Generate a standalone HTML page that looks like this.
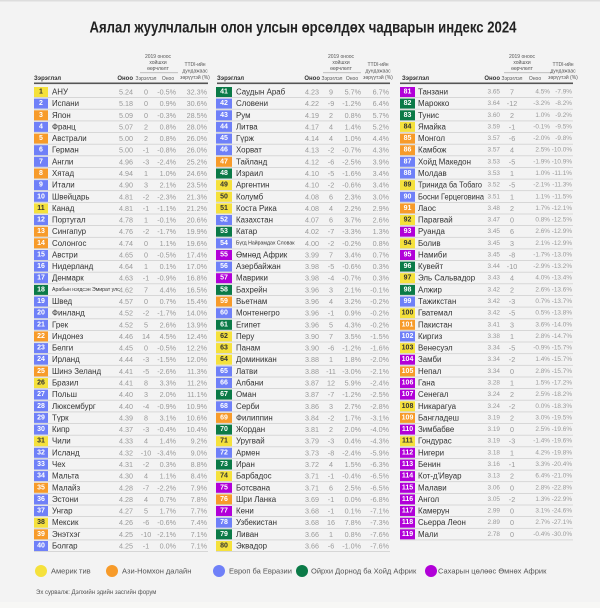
<!DOCTYPE html>
<html><head><meta charset="utf-8"><style>
html,body{margin:0;padding:0;background:#f3f3f3;}
svg{display:block;font-family:"Liberation Sans",sans-serif;}
text{dominant-baseline:central;}
.t{font-size:16px;font-weight:bold;fill:#222;}
.h{font-size:5px;fill:#555;}
.hb{font-size:6px;font-weight:bold;fill:#333;}
.c{font-size:7.9px;fill:#333;}
.s{font-size:5.2px;fill:#333;}
.e{font-size:7.2px;fill:#999;text-anchor:end;}
.m{font-size:7.2px;fill:#999;text-anchor:middle;}
.c3 .e{font-size:6.4px;}
.k{font-size:7px;font-weight:bold;fill:#fff;text-anchor:middle;}
.kd{font-size:7px;font-weight:bold;fill:#333;text-anchor:middle;}
.Y{fill:#f5e13c}.O{fill:#f79b2a}.B{fill:#6f80f8}.G{fill:#0b7a47}.P{fill:#b100d8}
.l{fill:#d0d0d0}
.lg{font-size:7.5px;fill:#555;}
</style></head><body>
<svg width="600" height="608" viewBox="0 0 600 608" xmlns="http://www.w3.org/2000/svg">
<rect x="0" y="0" width="600" height="608" fill="#f3f3f3"/>
<rect x="0" y="0" width="600" height="1.5" fill="#ddd"/>
<text x="303" y="28" class="t" text-anchor="middle" textLength="427" lengthAdjust="spacingAndGlyphs">Аялал жуулчлалын олон улсын өрсөлдөх чадварын индекс 2024</text>

<g>
<text x="34" y="79" class="hb">Зэрэглэл</text><text x="133" y="79" class="hb" text-anchor="end">Оноо</text>
<text x="158" y="57" class="h" text-anchor="middle">2019 оноос</text><text x="158" y="63" class="h" text-anchor="middle">хойшхи</text><text x="158" y="69" class="h" text-anchor="middle">өөрчлөлт</text>
<rect x="140" y="72.5" width="38" height="0.6" fill="#999"/>
<text x="146" y="79" class="h" text-anchor="middle">Зэрэглэл</text><text x="168" y="79" class="h" text-anchor="middle">Оноо</text>
<text x="195" y="65" class="h" text-anchor="middle">TTDI-ийн</text><text x="195" y="71.5" class="h" text-anchor="middle">дундажаас</text><text x="195" y="78" class="h" text-anchor="middle">зөрүүтэй (%)</text>
<rect x="34" y="82.5" width="174" height="1.6" fill="#555"/>

<text x="217" y="79" class="hb">Зэрэглэл</text><text x="320" y="79" class="hb" text-anchor="end">Оноо</text>
<text x="341" y="57" class="h" text-anchor="middle">2019 оноос</text><text x="341" y="63" class="h" text-anchor="middle">хойшхи</text><text x="341" y="69" class="h" text-anchor="middle">өөрчлөлт</text>
<rect x="323" y="72.5" width="38" height="0.6" fill="#999"/>
<text x="332" y="79" class="h" text-anchor="middle">Зэрэглэл</text><text x="352" y="79" class="h" text-anchor="middle">Оноо</text>
<text x="378" y="65" class="h" text-anchor="middle">TTDI-ийн</text><text x="378" y="71.5" class="h" text-anchor="middle">дундажаас</text><text x="378" y="78" class="h" text-anchor="middle">зөрүүтэй (%)</text>
<rect x="217" y="82.5" width="173" height="1.6" fill="#555"/>

<text x="402" y="79" class="hb">Зэрэглэл</text><text x="500" y="79" class="hb" text-anchor="end">Оноо</text>
<text x="522" y="57" class="h" text-anchor="middle">2019 оноос</text><text x="522" y="63" class="h" text-anchor="middle">хойшхи</text><text x="522" y="69" class="h" text-anchor="middle">өөрчлөлт</text>
<rect x="504" y="72.5" width="48" height="0.6" fill="#999"/>
<text x="512" y="79" class="h" text-anchor="middle">Зэрэглэл</text><text x="535" y="79" class="h" text-anchor="middle">Оноо</text>
<text x="563" y="65" class="h" text-anchor="middle">TTDI-ийн</text><text x="563" y="71.5" class="h" text-anchor="middle">дундажаас</text><text x="563" y="78" class="h" text-anchor="middle">зөрүүтэй (%)</text>
<rect x="400" y="82.5" width="173" height="1.6" fill="#555"/>
</g>

<!-- column 1 -->
<g transform="translate(0,92)"><rect x="34" y="-5" width="14" height="10" class="Y"/><text x="41" class="kd">1</text><text x="52" class="c">АНУ</text><text x="133" class="e">5.24</text><text x="146" class="m">0</text><text x="176" class="e">-0.5%</text><text x="207" class="e">32.3%</text><rect x="34" y="5.2" width="174" height="0.8" class="l"/></g>
<g transform="translate(0,103.6)"><rect x="34" y="-5" width="14" height="10" class="B"/><text x="41" class="k">2</text><text x="52" class="c">Испани</text><text x="133" class="e">5.18</text><text x="146" class="m">0</text><text x="176" class="e">0.9%</text><text x="207" class="e">30.6%</text><rect x="34" y="5.2" width="174" height="0.8" class="l"/></g>
<g transform="translate(0,115.3)"><rect x="34" y="-5" width="14" height="10" class="O"/><text x="41" class="k">3</text><text x="52" class="c">Япон</text><text x="133" class="e">5.09</text><text x="146" class="m">0</text><text x="176" class="e">-0.3%</text><text x="207" class="e">28.5%</text><rect x="34" y="5.2" width="174" height="0.8" class="l"/></g>
<g transform="translate(0,126.9)"><rect x="34" y="-5" width="14" height="10" class="B"/><text x="41" class="k">4</text><text x="52" class="c">Франц</text><text x="133" class="e">5.07</text><text x="146" class="m">2</text><text x="176" class="e">0.8%</text><text x="207" class="e">28.0%</text><rect x="34" y="5.2" width="174" height="0.8" class="l"/></g>
<g transform="translate(0,138.6)"><rect x="34" y="-5" width="14" height="10" class="O"/><text x="41" class="k">5</text><text x="52" class="c">Австрали</text><text x="133" class="e">5.00</text><text x="146" class="m">2</text><text x="176" class="e">0.8%</text><text x="207" class="e">26.0%</text><rect x="34" y="5.2" width="174" height="0.8" class="l"/></g>
<g transform="translate(0,150.2)"><rect x="34" y="-5" width="14" height="10" class="B"/><text x="41" class="k">6</text><text x="52" class="c">Герман</text><text x="133" class="e">5.00</text><text x="146" class="m">-1</text><text x="176" class="e">-0.8%</text><text x="207" class="e">26.0%</text><rect x="34" y="5.2" width="174" height="0.8" class="l"/></g>
<g transform="translate(0,161.8)"><rect x="34" y="-5" width="14" height="10" class="B"/><text x="41" class="k">7</text><text x="52" class="c">Англи</text><text x="133" class="e">4.96</text><text x="146" class="m">-3</text><text x="176" class="e">-2.4%</text><text x="207" class="e">25.2%</text><rect x="34" y="5.2" width="174" height="0.8" class="l"/></g>
<g transform="translate(0,173.5)"><rect x="34" y="-5" width="14" height="10" class="O"/><text x="41" class="k">8</text><text x="52" class="c">Хятад</text><text x="133" class="e">4.94</text><text x="146" class="m">1</text><text x="176" class="e">1.0%</text><text x="207" class="e">24.6%</text><rect x="34" y="5.2" width="174" height="0.8" class="l"/></g>
<g transform="translate(0,185.1)"><rect x="34" y="-5" width="14" height="10" class="B"/><text x="41" class="k">9</text><text x="52" class="c">Итали</text><text x="133" class="e">4.90</text><text x="146" class="m">3</text><text x="176" class="e">2.1%</text><text x="207" class="e">23.5%</text><rect x="34" y="5.2" width="174" height="0.8" class="l"/></g>
<g transform="translate(0,196.8)"><rect x="34" y="-5" width="14" height="10" class="B"/><text x="41" class="k">10</text><text x="52" class="c">Швейцарь</text><text x="133" class="e">4.81</text><text x="146" class="m">-2</text><text x="176" class="e">-2.3%</text><text x="207" class="e">21.3%</text><rect x="34" y="5.2" width="174" height="0.8" class="l"/></g>
<g transform="translate(0,208.4)"><rect x="34" y="-5" width="14" height="10" class="Y"/><text x="41" class="kd">11</text><text x="52" class="c">Канад</text><text x="133" class="e">4.81</text><text x="146" class="m">-1</text><text x="176" class="e">-1.1%</text><text x="207" class="e">21.2%</text><rect x="34" y="5.2" width="174" height="0.8" class="l"/></g>
<g transform="translate(0,220.0)"><rect x="34" y="-5" width="14" height="10" class="B"/><text x="41" class="k">12</text><text x="52" class="c">Португал</text><text x="133" class="e">4.78</text><text x="146" class="m">1</text><text x="176" class="e">-0.1%</text><text x="207" class="e">20.6%</text><rect x="34" y="5.2" width="174" height="0.8" class="l"/></g>
<g transform="translate(0,231.7)"><rect x="34" y="-5" width="14" height="10" class="O"/><text x="41" class="k">13</text><text x="52" class="c">Сингапур</text><text x="133" class="e">4.76</text><text x="146" class="m">-2</text><text x="176" class="e">-1.7%</text><text x="207" class="e">19.9%</text><rect x="34" y="5.2" width="174" height="0.8" class="l"/></g>
<g transform="translate(0,243.3)"><rect x="34" y="-5" width="14" height="10" class="O"/><text x="41" class="k">14</text><text x="52" class="c">Солонгос</text><text x="133" class="e">4.74</text><text x="146" class="m">0</text><text x="176" class="e">1.1%</text><text x="207" class="e">19.6%</text><rect x="34" y="5.2" width="174" height="0.8" class="l"/></g>
<g transform="translate(0,255.0)"><rect x="34" y="-5" width="14" height="10" class="B"/><text x="41" class="k">15</text><text x="52" class="c">Австри</text><text x="133" class="e">4.65</text><text x="146" class="m">0</text><text x="176" class="e">-0.5%</text><text x="207" class="e">17.4%</text><rect x="34" y="5.2" width="174" height="0.8" class="l"/></g>
<g transform="translate(0,266.6)"><rect x="34" y="-5" width="14" height="10" class="B"/><text x="41" class="k">16</text><text x="52" class="c">Нидерланд</text><text x="133" class="e">4.64</text><text x="146" class="m">1</text><text x="176" class="e">0.1%</text><text x="207" class="e">17.0%</text><rect x="34" y="5.2" width="174" height="0.8" class="l"/></g>
<g transform="translate(0,278.2)"><rect x="34" y="-5" width="14" height="10" class="B"/><text x="41" class="k">17</text><text x="52" class="c">Денмарк</text><text x="133" class="e">4.63</text><text x="146" class="m">-1</text><text x="176" class="e">-0.9%</text><text x="207" class="e">16.8%</text><rect x="34" y="5.2" width="174" height="0.8" class="l"/></g>
<g transform="translate(0,289.9)"><rect x="34" y="-5" width="14" height="10" class="G"/><text x="41" class="k">18</text><text x="52" class="s">Арабын нэгдсэн Эмират улс</text><text x="133" class="e">4.62</text><text x="146" class="m">7</text><text x="176" class="e">4.4%</text><text x="207" class="e">16.5%</text><rect x="34" y="5.2" width="174" height="0.8" class="l"/></g>
<g transform="translate(0,301.5)"><rect x="34" y="-5" width="14" height="10" class="B"/><text x="41" class="k">19</text><text x="52" class="c">Швед</text><text x="133" class="e">4.57</text><text x="146" class="m">0</text><text x="176" class="e">0.7%</text><text x="207" class="e">15.4%</text><rect x="34" y="5.2" width="174" height="0.8" class="l"/></g>
<g transform="translate(0,313.2)"><rect x="34" y="-5" width="14" height="10" class="B"/><text x="41" class="k">20</text><text x="52" class="c">Финланд</text><text x="133" class="e">4.52</text><text x="146" class="m">-2</text><text x="176" class="e">-1.7%</text><text x="207" class="e">14.0%</text><rect x="34" y="5.2" width="174" height="0.8" class="l"/></g>
<g transform="translate(0,324.8)"><rect x="34" y="-5" width="14" height="10" class="B"/><text x="41" class="k">21</text><text x="52" class="c">Грек</text><text x="133" class="e">4.52</text><text x="146" class="m">5</text><text x="176" class="e">2.6%</text><text x="207" class="e">13.9%</text><rect x="34" y="5.2" width="174" height="0.8" class="l"/></g>
<g transform="translate(0,336.4)"><rect x="34" y="-5" width="14" height="10" class="O"/><text x="41" class="k">22</text><text x="52" class="c">Индонез</text><text x="133" class="e">4.46</text><text x="146" class="m">14</text><text x="176" class="e">4.5%</text><text x="207" class="e">12.4%</text><rect x="34" y="5.2" width="174" height="0.8" class="l"/></g>
<g transform="translate(0,348.1)"><rect x="34" y="-5" width="14" height="10" class="B"/><text x="41" class="k">23</text><text x="52" class="c">Белги</text><text x="133" class="e">4.45</text><text x="146" class="m">0</text><text x="176" class="e">-0.5%</text><text x="207" class="e">12.2%</text><rect x="34" y="5.2" width="174" height="0.8" class="l"/></g>
<g transform="translate(0,359.7)"><rect x="34" y="-5" width="14" height="10" class="B"/><text x="41" class="k">24</text><text x="52" class="c">Ирланд</text><text x="133" class="e">4.44</text><text x="146" class="m">-3</text><text x="176" class="e">-1.5%</text><text x="207" class="e">12.0%</text><rect x="34" y="5.2" width="174" height="0.8" class="l"/></g>
<g transform="translate(0,371.4)"><rect x="34" y="-5" width="14" height="10" class="O"/><text x="41" class="k">25</text><text x="52" class="c">Шинэ Зеланд</text><text x="133" class="e">4.41</text><text x="146" class="m">-5</text><text x="176" class="e">-2.6%</text><text x="207" class="e">11.3%</text><rect x="34" y="5.2" width="174" height="0.8" class="l"/></g>
<g transform="translate(0,383.0)"><rect x="34" y="-5" width="14" height="10" class="Y"/><text x="41" class="kd">26</text><text x="52" class="c">Бразил</text><text x="133" class="e">4.41</text><text x="146" class="m">8</text><text x="176" class="e">3.3%</text><text x="207" class="e">11.2%</text><rect x="34" y="5.2" width="174" height="0.8" class="l"/></g>
<g transform="translate(0,394.6)"><rect x="34" y="-5" width="14" height="10" class="B"/><text x="41" class="k">27</text><text x="52" class="c">Польш</text><text x="133" class="e">4.40</text><text x="146" class="m">3</text><text x="176" class="e">2.0%</text><text x="207" class="e">11.1%</text><rect x="34" y="5.2" width="174" height="0.8" class="l"/></g>
<g transform="translate(0,406.3)"><rect x="34" y="-5" width="14" height="10" class="B"/><text x="41" class="k">28</text><text x="52" class="c">Люксембург</text><text x="133" class="e">4.40</text><text x="146" class="m">-4</text><text x="176" class="e">-0.9%</text><text x="207" class="e">10.9%</text><rect x="34" y="5.2" width="174" height="0.8" class="l"/></g>
<g transform="translate(0,417.9)"><rect x="34" y="-5" width="14" height="10" class="B"/><text x="41" class="k">29</text><text x="52" class="c">Түрк</text><text x="133" class="e">4.39</text><text x="146" class="m">8</text><text x="176" class="e">3.1%</text><text x="207" class="e">10.6%</text><rect x="34" y="5.2" width="174" height="0.8" class="l"/></g>
<g transform="translate(0,429.6)"><rect x="34" y="-5" width="14" height="10" class="B"/><text x="41" class="k">30</text><text x="52" class="c">Кипр</text><text x="133" class="e">4.37</text><text x="146" class="m">-3</text><text x="176" class="e">-0.4%</text><text x="207" class="e">10.4%</text><rect x="34" y="5.2" width="174" height="0.8" class="l"/></g>
<g transform="translate(0,441.2)"><rect x="34" y="-5" width="14" height="10" class="Y"/><text x="41" class="kd">31</text><text x="52" class="c">Чили</text><text x="133" class="e">4.33</text><text x="146" class="m">4</text><text x="176" class="e">1.4%</text><text x="207" class="e">9.2%</text><rect x="34" y="5.2" width="174" height="0.8" class="l"/></g>
<g transform="translate(0,452.8)"><rect x="34" y="-5" width="14" height="10" class="B"/><text x="41" class="k">32</text><text x="52" class="c">Исланд</text><text x="133" class="e">4.32</text><text x="146" class="m">-10</text><text x="176" class="e">-3.4%</text><text x="207" class="e">9.0%</text><rect x="34" y="5.2" width="174" height="0.8" class="l"/></g>
<g transform="translate(0,464.5)"><rect x="34" y="-5" width="14" height="10" class="B"/><text x="41" class="k">33</text><text x="52" class="c">Чех</text><text x="133" class="e">4.31</text><text x="146" class="m">-2</text><text x="176" class="e">0.3%</text><text x="207" class="e">8.8%</text><rect x="34" y="5.2" width="174" height="0.8" class="l"/></g>
<g transform="translate(0,476.1)"><rect x="34" y="-5" width="14" height="10" class="B"/><text x="41" class="k">34</text><text x="52" class="c">Мальта</text><text x="133" class="e">4.30</text><text x="146" class="m">4</text><text x="176" class="e">1.1%</text><text x="207" class="e">8.4%</text><rect x="34" y="5.2" width="174" height="0.8" class="l"/></g>
<g transform="translate(0,487.8)"><rect x="34" y="-5" width="14" height="10" class="O"/><text x="41" class="k">35</text><text x="52" class="c">Малайз</text><text x="133" class="e">4.28</text><text x="146" class="m">-7</text><text x="176" class="e">-2.2%</text><text x="207" class="e">7.9%</text><rect x="34" y="5.2" width="174" height="0.8" class="l"/></g>
<g transform="translate(0,499.4)"><rect x="34" y="-5" width="14" height="10" class="B"/><text x="41" class="k">36</text><text x="52" class="c">Эстони</text><text x="133" class="e">4.28</text><text x="146" class="m">4</text><text x="176" class="e">0.7%</text><text x="207" class="e">7.8%</text><rect x="34" y="5.2" width="174" height="0.8" class="l"/></g>
<g transform="translate(0,511.0)"><rect x="34" y="-5" width="14" height="10" class="B"/><text x="41" class="k">37</text><text x="52" class="c">Унгар</text><text x="133" class="e">4.27</text><text x="146" class="m">5</text><text x="176" class="e">1.7%</text><text x="207" class="e">7.7%</text><rect x="34" y="5.2" width="174" height="0.8" class="l"/></g>
<g transform="translate(0,522.7)"><rect x="34" y="-5" width="14" height="10" class="Y"/><text x="41" class="kd">38</text><text x="52" class="c">Мексик</text><text x="133" class="e">4.26</text><text x="146" class="m">-6</text><text x="176" class="e">-0.6%</text><text x="207" class="e">7.4%</text><rect x="34" y="5.2" width="174" height="0.8" class="l"/></g>
<g transform="translate(0,534.3)"><rect x="34" y="-5" width="14" height="10" class="O"/><text x="41" class="k">39</text><text x="52" class="c">Энэтхэг</text><text x="133" class="e">4.25</text><text x="146" class="m">-10</text><text x="176" class="e">-2.1%</text><text x="207" class="e">7.1%</text><rect x="34" y="5.2" width="174" height="0.8" class="l"/></g>
<g transform="translate(0,546.0)"><rect x="34" y="-5" width="14" height="10" class="B"/><text x="41" class="k">40</text><text x="52" class="c">Болгар</text><text x="133" class="e">4.25</text><text x="146" class="m">-1</text><text x="176" class="e">0.0%</text><text x="207" class="e">7.1%</text><rect x="34" y="5.2" width="174" height="0.8" class="l"/></g>

<!-- column 2 -->
<g transform="translate(0,92)"><rect x="216" y="-5" width="16" height="10" class="G"/><text x="224" class="k">41</text><text x="236" class="c">Саудын Араб</text><text x="319" class="e">4.23</text><text x="331" class="m">9</text><text x="361" class="e">5.7%</text><text x="389" class="e">6.7%</text><rect x="216" y="5.2" width="174" height="0.8" class="l"/></g>
<g transform="translate(0,103.6)"><rect x="216" y="-5" width="16" height="10" class="B"/><text x="224" class="k">42</text><text x="236" class="c">Словени</text><text x="319" class="e">4.22</text><text x="331" class="m">-9</text><text x="361" class="e">-1.2%</text><text x="389" class="e">6.4%</text><rect x="216" y="5.2" width="174" height="0.8" class="l"/></g>
<g transform="translate(0,115.3)"><rect x="216" y="-5" width="16" height="10" class="B"/><text x="224" class="k">43</text><text x="236" class="c">Рум</text><text x="319" class="e">4.19</text><text x="331" class="m">2</text><text x="361" class="e">0.8%</text><text x="389" class="e">5.7%</text><rect x="216" y="5.2" width="174" height="0.8" class="l"/></g>
<g transform="translate(0,126.9)"><rect x="216" y="-5" width="16" height="10" class="B"/><text x="224" class="k">44</text><text x="236" class="c">Литва</text><text x="319" class="e">4.17</text><text x="331" class="m">4</text><text x="361" class="e">1.4%</text><text x="389" class="e">5.2%</text><rect x="216" y="5.2" width="174" height="0.8" class="l"/></g>
<g transform="translate(0,138.6)"><rect x="216" y="-5" width="16" height="10" class="B"/><text x="224" class="k">45</text><text x="236" class="c">Гүрж</text><text x="319" class="e">4.14</text><text x="331" class="m">4</text><text x="361" class="e">1.0%</text><text x="389" class="e">4.4%</text><rect x="216" y="5.2" width="174" height="0.8" class="l"/></g>
<g transform="translate(0,150.2)"><rect x="216" y="-5" width="16" height="10" class="B"/><text x="224" class="k">46</text><text x="236" class="c">Хорват</text><text x="319" class="e">4.13</text><text x="331" class="m">-2</text><text x="361" class="e">-0.7%</text><text x="389" class="e">4.3%</text><rect x="216" y="5.2" width="174" height="0.8" class="l"/></g>
<g transform="translate(0,161.8)"><rect x="216" y="-5" width="16" height="10" class="O"/><text x="224" class="k">47</text><text x="236" class="c">Тайланд</text><text x="319" class="e">4.12</text><text x="331" class="m">-6</text><text x="361" class="e">-2.5%</text><text x="389" class="e">3.9%</text><rect x="216" y="5.2" width="174" height="0.8" class="l"/></g>
<g transform="translate(0,173.5)"><rect x="216" y="-5" width="16" height="10" class="G"/><text x="224" class="k">48</text><text x="236" class="c">Израил</text><text x="319" class="e">4.10</text><text x="331" class="m">-5</text><text x="361" class="e">-1.6%</text><text x="389" class="e">3.4%</text><rect x="216" y="5.2" width="174" height="0.8" class="l"/></g>
<g transform="translate(0,185.1)"><rect x="216" y="-5" width="16" height="10" class="Y"/><text x="224" class="kd">49</text><text x="236" class="c">Аргентин</text><text x="319" class="e">4.10</text><text x="331" class="m">-2</text><text x="361" class="e">-0.6%</text><text x="389" class="e">3.4%</text><rect x="216" y="5.2" width="174" height="0.8" class="l"/></g>
<g transform="translate(0,196.8)"><rect x="216" y="-5" width="16" height="10" class="Y"/><text x="224" class="kd">50</text><text x="236" class="c">Колумб</text><text x="319" class="e">4.08</text><text x="331" class="m">6</text><text x="361" class="e">2.3%</text><text x="389" class="e">3.0%</text><rect x="216" y="5.2" width="174" height="0.8" class="l"/></g>
<g transform="translate(0,208.4)"><rect x="216" y="-5" width="16" height="10" class="Y"/><text x="224" class="kd">51</text><text x="236" class="c">Коста Рика</text><text x="319" class="e">4.08</text><text x="331" class="m">4</text><text x="361" class="e">2.2%</text><text x="389" class="e">2.9%</text><rect x="216" y="5.2" width="174" height="0.8" class="l"/></g>
<g transform="translate(0,220.0)"><rect x="216" y="-5" width="16" height="10" class="B"/><text x="224" class="k">52</text><text x="236" class="c">Казахстан</text><text x="319" class="e">4.07</text><text x="331" class="m">6</text><text x="361" class="e">3.7%</text><text x="389" class="e">2.6%</text><rect x="216" y="5.2" width="174" height="0.8" class="l"/></g>
<g transform="translate(0,231.7)"><rect x="216" y="-5" width="16" height="10" class="G"/><text x="224" class="k">53</text><text x="236" class="c">Катар</text><text x="319" class="e">4.02</text><text x="331" class="m">-7</text><text x="361" class="e">-3.3%</text><text x="389" class="e">1.3%</text><rect x="216" y="5.2" width="174" height="0.8" class="l"/></g>
<g transform="translate(0,243.3)"><rect x="216" y="-5" width="16" height="10" class="B"/><text x="224" class="k">54</text><text x="236" class="s">Бүгд Найрамдах Словак</text><text x="319" class="e">4.00</text><text x="331" class="m">-2</text><text x="361" class="e">-0.2%</text><text x="389" class="e">0.8%</text><rect x="216" y="5.2" width="174" height="0.8" class="l"/></g>
<g transform="translate(0,255.0)"><rect x="216" y="-5" width="16" height="10" class="P"/><text x="224" class="k">55</text><text x="236" class="c">Өмнөд Африк</text><text x="319" class="e">3.99</text><text x="331" class="m">7</text><text x="361" class="e">3.4%</text><text x="389" class="e">0.7%</text><rect x="216" y="5.2" width="174" height="0.8" class="l"/></g>
<g transform="translate(0,266.6)"><rect x="216" y="-5" width="16" height="10" class="B"/><text x="224" class="k">56</text><text x="236" class="c">Азербайжан</text><text x="319" class="e">3.98</text><text x="331" class="m">-5</text><text x="361" class="e">-0.6%</text><text x="389" class="e">0.3%</text><rect x="216" y="5.2" width="174" height="0.8" class="l"/></g>
<g transform="translate(0,278.2)"><rect x="216" y="-5" width="16" height="10" class="P"/><text x="224" class="k">57</text><text x="236" class="c">Маврики</text><text x="319" class="e">3.98</text><text x="331" class="m">-4</text><text x="361" class="e">-0.7%</text><text x="389" class="e">0.3%</text><rect x="216" y="5.2" width="174" height="0.8" class="l"/></g>
<g transform="translate(0,289.9)"><rect x="216" y="-5" width="16" height="10" class="G"/><text x="224" class="k">58</text><text x="236" class="c">Бахрейн</text><text x="319" class="e">3.96</text><text x="331" class="m">3</text><text x="361" class="e">2.1%</text><text x="389" class="e">-0.1%</text><rect x="216" y="5.2" width="174" height="0.8" class="l"/></g>
<g transform="translate(0,301.5)"><rect x="216" y="-5" width="16" height="10" class="O"/><text x="224" class="k">59</text><text x="236" class="c">Вьетнам</text><text x="319" class="e">3.96</text><text x="331" class="m">4</text><text x="361" class="e">3.2%</text><text x="389" class="e">-0.2%</text><rect x="216" y="5.2" width="174" height="0.8" class="l"/></g>
<g transform="translate(0,313.2)"><rect x="216" y="-5" width="16" height="10" class="B"/><text x="224" class="k">60</text><text x="236" class="c">Монтенегро</text><text x="319" class="e">3.96</text><text x="331" class="m">-1</text><text x="361" class="e">0.9%</text><text x="389" class="e">-0.2%</text><rect x="216" y="5.2" width="174" height="0.8" class="l"/></g>
<g transform="translate(0,324.8)"><rect x="216" y="-5" width="16" height="10" class="G"/><text x="224" class="k">61</text><text x="236" class="c">Египет</text><text x="319" class="e">3.96</text><text x="331" class="m">5</text><text x="361" class="e">4.3%</text><text x="389" class="e">-0.2%</text><rect x="216" y="5.2" width="174" height="0.8" class="l"/></g>
<g transform="translate(0,336.4)"><rect x="216" y="-5" width="16" height="10" class="Y"/><text x="224" class="kd">62</text><text x="236" class="c">Перу</text><text x="319" class="e">3.90</text><text x="331" class="m">7</text><text x="361" class="e">3.5%</text><text x="389" class="e">-1.5%</text><rect x="216" y="5.2" width="174" height="0.8" class="l"/></g>
<g transform="translate(0,348.1)"><rect x="216" y="-5" width="16" height="10" class="Y"/><text x="224" class="kd">63</text><text x="236" class="c">Панам</text><text x="319" class="e">3.90</text><text x="331" class="m">-6</text><text x="361" class="e">-1.2%</text><text x="389" class="e">-1.6%</text><rect x="216" y="5.2" width="174" height="0.8" class="l"/></g>
<g transform="translate(0,359.7)"><rect x="216" y="-5" width="16" height="10" class="Y"/><text x="224" class="kd">64</text><text x="236" class="c">Доминикан</text><text x="319" class="e">3.88</text><text x="331" class="m">1</text><text x="361" class="e">1.8%</text><text x="389" class="e">-2.0%</text><rect x="216" y="5.2" width="174" height="0.8" class="l"/></g>
<g transform="translate(0,371.4)"><rect x="216" y="-5" width="16" height="10" class="B"/><text x="224" class="k">65</text><text x="236" class="c">Латви</text><text x="319" class="e">3.88</text><text x="331" class="m">-11</text><text x="361" class="e">-3.0%</text><text x="389" class="e">-2.1%</text><rect x="216" y="5.2" width="174" height="0.8" class="l"/></g>
<g transform="translate(0,383.0)"><rect x="216" y="-5" width="16" height="10" class="B"/><text x="224" class="k">66</text><text x="236" class="c">Албани</text><text x="319" class="e">3.87</text><text x="331" class="m">12</text><text x="361" class="e">5.9%</text><text x="389" class="e">-2.4%</text><rect x="216" y="5.2" width="174" height="0.8" class="l"/></g>
<g transform="translate(0,394.6)"><rect x="216" y="-5" width="16" height="10" class="G"/><text x="224" class="k">67</text><text x="236" class="c">Оман</text><text x="319" class="e">3.87</text><text x="331" class="m">-7</text><text x="361" class="e">-1.2%</text><text x="389" class="e">-2.5%</text><rect x="216" y="5.2" width="174" height="0.8" class="l"/></g>
<g transform="translate(0,406.3)"><rect x="216" y="-5" width="16" height="10" class="B"/><text x="224" class="k">68</text><text x="236" class="c">Серби</text><text x="319" class="e">3.86</text><text x="331" class="m">3</text><text x="361" class="e">2.7%</text><text x="389" class="e">-2.8%</text><rect x="216" y="5.2" width="174" height="0.8" class="l"/></g>
<g transform="translate(0,417.9)"><rect x="216" y="-5" width="16" height="10" class="O"/><text x="224" class="k">69</text><text x="236" class="c">Филиппин</text><text x="319" class="e">3.84</text><text x="331" class="m">-2</text><text x="361" class="e">1.7%</text><text x="389" class="e">-3.1%</text><rect x="216" y="5.2" width="174" height="0.8" class="l"/></g>
<g transform="translate(0,429.6)"><rect x="216" y="-5" width="16" height="10" class="G"/><text x="224" class="k">70</text><text x="236" class="c">Жордан</text><text x="319" class="e">3.81</text><text x="331" class="m">2</text><text x="361" class="e">2.0%</text><text x="389" class="e">-4.0%</text><rect x="216" y="5.2" width="174" height="0.8" class="l"/></g>
<g transform="translate(0,441.2)"><rect x="216" y="-5" width="16" height="10" class="Y"/><text x="224" class="kd">71</text><text x="236" class="c">Уругвай</text><text x="319" class="e">3.79</text><text x="331" class="m">-3</text><text x="361" class="e">0.4%</text><text x="389" class="e">-4.3%</text><rect x="216" y="5.2" width="174" height="0.8" class="l"/></g>
<g transform="translate(0,452.8)"><rect x="216" y="-5" width="16" height="10" class="B"/><text x="224" class="k">72</text><text x="236" class="c">Армен</text><text x="319" class="e">3.73</text><text x="331" class="m">-8</text><text x="361" class="e">-2.4%</text><text x="389" class="e">-5.9%</text><rect x="216" y="5.2" width="174" height="0.8" class="l"/></g>
<g transform="translate(0,464.5)"><rect x="216" y="-5" width="16" height="10" class="G"/><text x="224" class="k">73</text><text x="236" class="c">Иран</text><text x="319" class="e">3.72</text><text x="331" class="m">4</text><text x="361" class="e">1.5%</text><text x="389" class="e">-6.3%</text><rect x="216" y="5.2" width="174" height="0.8" class="l"/></g>
<g transform="translate(0,476.1)"><rect x="216" y="-5" width="16" height="10" class="Y"/><text x="224" class="kd">74</text><text x="236" class="c">Барбадос</text><text x="319" class="e">3.71</text><text x="331" class="m">-1</text><text x="361" class="e">-0.4%</text><text x="389" class="e">-6.5%</text><rect x="216" y="5.2" width="174" height="0.8" class="l"/></g>
<g transform="translate(0,487.8)"><rect x="216" y="-5" width="16" height="10" class="P"/><text x="224" class="k">75</text><text x="236" class="c">Ботсвана</text><text x="319" class="e">3.71</text><text x="331" class="m">6</text><text x="361" class="e">2.5%</text><text x="389" class="e">-6.5%</text><rect x="216" y="5.2" width="174" height="0.8" class="l"/></g>
<g transform="translate(0,499.4)"><rect x="216" y="-5" width="16" height="10" class="O"/><text x="224" class="k">76</text><text x="236" class="c">Шри Ланка</text><text x="319" class="e">3.69</text><text x="331" class="m">-1</text><text x="361" class="e">0.0%</text><text x="389" class="e">-6.8%</text><rect x="216" y="5.2" width="174" height="0.8" class="l"/></g>
<g transform="translate(0,511.0)"><rect x="216" y="-5" width="16" height="10" class="P"/><text x="224" class="k">77</text><text x="236" class="c">Кени</text><text x="319" class="e">3.68</text><text x="331" class="m">-1</text><text x="361" class="e">0.1%</text><text x="389" class="e">-7.1%</text><rect x="216" y="5.2" width="174" height="0.8" class="l"/></g>
<g transform="translate(0,522.7)"><rect x="216" y="-5" width="16" height="10" class="B"/><text x="224" class="k">78</text><text x="236" class="c">Узбекистан</text><text x="319" class="e">3.68</text><text x="331" class="m">16</text><text x="361" class="e">7.8%</text><text x="389" class="e">-7.3%</text><rect x="216" y="5.2" width="174" height="0.8" class="l"/></g>
<g transform="translate(0,534.3)"><rect x="216" y="-5" width="16" height="10" class="G"/><text x="224" class="k">79</text><text x="236" class="c">Ливан</text><text x="319" class="e">3.66</text><text x="331" class="m">1</text><text x="361" class="e">0.8%</text><text x="389" class="e">-7.6%</text><rect x="216" y="5.2" width="174" height="0.8" class="l"/></g>
<g transform="translate(0,546.0)"><rect x="216" y="-5" width="16" height="10" class="Y"/><text x="224" class="kd">80</text><text x="236" class="c">Эквадор</text><text x="319" class="e">3.66</text><text x="331" class="m">-6</text><text x="361" class="e">-1.0%</text><text x="389" class="e">-7.6%</text><rect x="216" y="5.2" width="174" height="0.8" class="l"/></g>

<!-- column 3 -->
<g class="c3">
<g transform="translate(0,92)"><rect x="400" y="-5" width="15" height="10" class="P"/><text x="407.5" class="k">81</text><text x="418" class="c">Танзани</text><text x="500" class="e">3.65</text><text x="512" class="m">7</text><text x="550" class="e">4.5%</text><text x="572" class="e">-7.9%</text><rect x="400" y="5.2" width="173" height="0.8" class="l"/></g>
<g transform="translate(0,103.6)"><rect x="400" y="-5" width="15" height="10" class="G"/><text x="407.5" class="k">82</text><text x="418" class="c">Марокко</text><text x="500" class="e">3.64</text><text x="512" class="m">-12</text><text x="550" class="e">-3.2%</text><text x="572" class="e">-8.2%</text><rect x="400" y="5.2" width="173" height="0.8" class="l"/></g>
<g transform="translate(0,115.3)"><rect x="400" y="-5" width="15" height="10" class="G"/><text x="407.5" class="k">83</text><text x="418" class="c">Тунис</text><text x="500" class="e">3.60</text><text x="512" class="m">2</text><text x="550" class="e">1.0%</text><text x="572" class="e">-9.2%</text><rect x="400" y="5.2" width="173" height="0.8" class="l"/></g>
<g transform="translate(0,126.9)"><rect x="400" y="-5" width="15" height="10" class="Y"/><text x="407.5" class="kd">84</text><text x="418" class="c">Ямайка</text><text x="500" class="e">3.59</text><text x="512" class="m">-1</text><text x="550" class="e">-0.1%</text><text x="572" class="e">-9.5%</text><rect x="400" y="5.2" width="173" height="0.8" class="l"/></g>
<g transform="translate(0,138.6)"><rect x="400" y="-5" width="15" height="10" class="O"/><text x="407.5" class="k">85</text><text x="418" class="c">Монгол</text><text x="500" class="e">3.57</text><text x="512" class="m">-6</text><text x="550" class="e">-2.0%</text><text x="572" class="e">-9.8%</text><rect x="400" y="5.2" width="173" height="0.8" class="l"/></g>
<g transform="translate(0,150.2)"><rect x="400" y="-5" width="15" height="10" class="O"/><text x="407.5" class="k">86</text><text x="418" class="c">Камбож</text><text x="500" class="e">3.57</text><text x="512" class="m">4</text><text x="550" class="e">2.5%</text><text x="572" class="e">-10.0%</text><rect x="400" y="5.2" width="173" height="0.8" class="l"/></g>
<g transform="translate(0,161.8)"><rect x="400" y="-5" width="15" height="10" class="B"/><text x="407.5" class="k">87</text><text x="418" class="c">Хойд Македон</text><text x="500" class="e">3.53</text><text x="512" class="m">-5</text><text x="550" class="e">-1.9%</text><text x="572" class="e">-10.9%</text><rect x="400" y="5.2" width="173" height="0.8" class="l"/></g>
<g transform="translate(0,173.5)"><rect x="400" y="-5" width="15" height="10" class="B"/><text x="407.5" class="k">88</text><text x="418" class="c">Молдав</text><text x="500" class="e">3.53</text><text x="512" class="m">1</text><text x="550" class="e">1.0%</text><text x="572" class="e">-11.1%</text><rect x="400" y="5.2" width="173" height="0.8" class="l"/></g>
<g transform="translate(0,185.1)"><rect x="400" y="-5" width="15" height="10" class="Y"/><text x="407.5" class="kd">89</text><text x="418" class="c" textLength="64" lengthAdjust="spacingAndGlyphs">Тринида ба Тобаго</text><text x="500" class="e">3.52</text><text x="512" class="m">-5</text><text x="550" class="e">-2.1%</text><text x="572" class="e">-11.3%</text><rect x="400" y="5.2" width="173" height="0.8" class="l"/></g>
<g transform="translate(0,196.8)"><rect x="400" y="-5" width="15" height="10" class="B"/><text x="407.5" class="k">90</text><text x="418" class="c" textLength="66" lengthAdjust="spacingAndGlyphs">Босни Герцеговина</text><text x="500" class="e">3.51</text><text x="512" class="m">1</text><text x="550" class="e">1.1%</text><text x="572" class="e">-11.5%</text><rect x="400" y="5.2" width="173" height="0.8" class="l"/></g>
<g transform="translate(0,208.4)"><rect x="400" y="-5" width="15" height="10" class="O"/><text x="407.5" class="k">91</text><text x="418" class="c">Лаос</text><text x="500" class="e">3.48</text><text x="512" class="m">2</text><text x="550" class="e">1.7%</text><text x="572" class="e">-12.1%</text><rect x="400" y="5.2" width="173" height="0.8" class="l"/></g>
<g transform="translate(0,220.0)"><rect x="400" y="-5" width="15" height="10" class="Y"/><text x="407.5" class="kd">92</text><text x="418" class="c">Парагвай</text><text x="500" class="e">3.47</text><text x="512" class="m">0</text><text x="550" class="e">0.8%</text><text x="572" class="e">-12.5%</text><rect x="400" y="5.2" width="173" height="0.8" class="l"/></g>
<g transform="translate(0,231.7)"><rect x="400" y="-5" width="15" height="10" class="P"/><text x="407.5" class="k">93</text><text x="418" class="c">Руанда</text><text x="500" class="e">3.45</text><text x="512" class="m">6</text><text x="550" class="e">2.6%</text><text x="572" class="e">-12.9%</text><rect x="400" y="5.2" width="173" height="0.8" class="l"/></g>
<g transform="translate(0,243.3)"><rect x="400" y="-5" width="15" height="10" class="Y"/><text x="407.5" class="kd">94</text><text x="418" class="c">Болив</text><text x="500" class="e">3.45</text><text x="512" class="m">3</text><text x="550" class="e">2.1%</text><text x="572" class="e">-12.9%</text><rect x="400" y="5.2" width="173" height="0.8" class="l"/></g>
<g transform="translate(0,255.0)"><rect x="400" y="-5" width="15" height="10" class="P"/><text x="407.5" class="k">95</text><text x="418" class="c">Намиби</text><text x="500" class="e">3.45</text><text x="512" class="m">-8</text><text x="550" class="e">-1.7%</text><text x="572" class="e">-13.0%</text><rect x="400" y="5.2" width="173" height="0.8" class="l"/></g>
<g transform="translate(0,266.6)"><rect x="400" y="-5" width="15" height="10" class="G"/><text x="407.5" class="k">96</text><text x="418" class="c">Кувейт</text><text x="500" class="e">3.44</text><text x="512" class="m">-10</text><text x="550" class="e">-2.9%</text><text x="572" class="e">-13.2%</text><rect x="400" y="5.2" width="173" height="0.8" class="l"/></g>
<g transform="translate(0,278.2)"><rect x="400" y="-5" width="15" height="10" class="Y"/><text x="407.5" class="kd">97</text><text x="418" class="c">Эль Сальвадор</text><text x="500" class="e">3.43</text><text x="512" class="m">4</text><text x="550" class="e">4.0%</text><text x="572" class="e">-13.4%</text><rect x="400" y="5.2" width="173" height="0.8" class="l"/></g>
<g transform="translate(0,289.9)"><rect x="400" y="-5" width="15" height="10" class="G"/><text x="407.5" class="k">98</text><text x="418" class="c">Алжир</text><text x="500" class="e">3.42</text><text x="512" class="m">2</text><text x="550" class="e">2.6%</text><text x="572" class="e">-13.6%</text><rect x="400" y="5.2" width="173" height="0.8" class="l"/></g>
<g transform="translate(0,301.5)"><rect x="400" y="-5" width="15" height="10" class="B"/><text x="407.5" class="k">99</text><text x="418" class="c">Тажикстан</text><text x="500" class="e">3.42</text><text x="512" class="m">-3</text><text x="550" class="e">0.7%</text><text x="572" class="e">-13.7%</text><rect x="400" y="5.2" width="173" height="0.8" class="l"/></g>
<g transform="translate(0,313.2)"><rect x="400" y="-5" width="15" height="10" class="Y"/><text x="407.5" class="kd">100</text><text x="418" class="c">Гватемал</text><text x="500" class="e">3.42</text><text x="512" class="m">-5</text><text x="550" class="e">0.5%</text><text x="572" class="e">-13.8%</text><rect x="400" y="5.2" width="173" height="0.8" class="l"/></g>
<g transform="translate(0,324.8)"><rect x="400" y="-5" width="15" height="10" class="O"/><text x="407.5" class="k">101</text><text x="418" class="c">Пакистан</text><text x="500" class="e">3.41</text><text x="512" class="m">3</text><text x="550" class="e">3.6%</text><text x="572" class="e">-14.0%</text><rect x="400" y="5.2" width="173" height="0.8" class="l"/></g>
<g transform="translate(0,336.4)"><rect x="400" y="-5" width="15" height="10" class="B"/><text x="407.5" class="k">102</text><text x="418" class="c">Киргиз</text><text x="500" class="e">3.38</text><text x="512" class="m">1</text><text x="550" class="e">2.8%</text><text x="572" class="e">-14.7%</text><rect x="400" y="5.2" width="173" height="0.8" class="l"/></g>
<g transform="translate(0,348.1)"><rect x="400" y="-5" width="15" height="10" class="Y"/><text x="407.5" class="kd">103</text><text x="418" class="c">Венесуэл</text><text x="500" class="e">3.34</text><text x="512" class="m">-5</text><text x="550" class="e">-0.9%</text><text x="572" class="e">-15.7%</text><rect x="400" y="5.2" width="173" height="0.8" class="l"/></g>
<g transform="translate(0,359.7)"><rect x="400" y="-5" width="15" height="10" class="P"/><text x="407.5" class="k">104</text><text x="418" class="c">Замби</text><text x="500" class="e">3.34</text><text x="512" class="m">-2</text><text x="550" class="e">1.4%</text><text x="572" class="e">-15.7%</text><rect x="400" y="5.2" width="173" height="0.8" class="l"/></g>
<g transform="translate(0,371.4)"><rect x="400" y="-5" width="15" height="10" class="O"/><text x="407.5" class="k">105</text><text x="418" class="c">Непал</text><text x="500" class="e">3.34</text><text x="512" class="m">0</text><text x="550" class="e">2.8%</text><text x="572" class="e">-15.7%</text><rect x="400" y="5.2" width="173" height="0.8" class="l"/></g>
<g transform="translate(0,383.0)"><rect x="400" y="-5" width="15" height="10" class="P"/><text x="407.5" class="k">106</text><text x="418" class="c">Гана</text><text x="500" class="e">3.28</text><text x="512" class="m">1</text><text x="550" class="e">1.5%</text><text x="572" class="e">-17.2%</text><rect x="400" y="5.2" width="173" height="0.8" class="l"/></g>
<g transform="translate(0,394.6)"><rect x="400" y="-5" width="15" height="10" class="P"/><text x="407.5" class="k">107</text><text x="418" class="c">Сенегал</text><text x="500" class="e">3.24</text><text x="512" class="m">2</text><text x="550" class="e">2.5%</text><text x="572" class="e">-18.2%</text><rect x="400" y="5.2" width="173" height="0.8" class="l"/></g>
<g transform="translate(0,406.3)"><rect x="400" y="-5" width="15" height="10" class="Y"/><text x="407.5" class="kd">108</text><text x="418" class="c">Никарагуа</text><text x="500" class="e">3.24</text><text x="512" class="m">-2</text><text x="550" class="e">0.0%</text><text x="572" class="e">-18.3%</text><rect x="400" y="5.2" width="173" height="0.8" class="l"/></g>
<g transform="translate(0,417.9)"><rect x="400" y="-5" width="15" height="10" class="O"/><text x="407.5" class="k">109</text><text x="418" class="c">Бангладеш</text><text x="500" class="e">3.19</text><text x="512" class="m">2</text><text x="550" class="e">3.0%</text><text x="572" class="e">-19.5%</text><rect x="400" y="5.2" width="173" height="0.8" class="l"/></g>
<g transform="translate(0,429.6)"><rect x="400" y="-5" width="15" height="10" class="P"/><text x="407.5" class="k">110</text><text x="418" class="c">Зимбабве</text><text x="500" class="e">3.19</text><text x="512" class="m">0</text><text x="550" class="e">2.5%</text><text x="572" class="e">-19.6%</text><rect x="400" y="5.2" width="173" height="0.8" class="l"/></g>
<g transform="translate(0,441.2)"><rect x="400" y="-5" width="15" height="10" class="Y"/><text x="407.5" class="kd">111</text><text x="418" class="c">Гондурас</text><text x="500" class="e">3.19</text><text x="512" class="m">-3</text><text x="550" class="e">-1.4%</text><text x="572" class="e">-19.6%</text><rect x="400" y="5.2" width="173" height="0.8" class="l"/></g>
<g transform="translate(0,452.8)"><rect x="400" y="-5" width="15" height="10" class="P"/><text x="407.5" class="k">112</text><text x="418" class="c">Нигери</text><text x="500" class="e">3.18</text><text x="512" class="m">1</text><text x="550" class="e">4.2%</text><text x="572" class="e">-19.8%</text><rect x="400" y="5.2" width="173" height="0.8" class="l"/></g>
<g transform="translate(0,464.5)"><rect x="400" y="-5" width="15" height="10" class="P"/><text x="407.5" class="k">113</text><text x="418" class="c">Бенин</text><text x="500" class="e">3.16</text><text x="512" class="m">-1</text><text x="550" class="e">3.3%</text><text x="572" class="e">-20.4%</text><rect x="400" y="5.2" width="173" height="0.8" class="l"/></g>
<g transform="translate(0,476.1)"><rect x="400" y="-5" width="15" height="10" class="P"/><text x="407.5" class="k">114</text><text x="418" class="c">Кот-д'Ивуар</text><text x="500" class="e">3.13</text><text x="512" class="m">2</text><text x="550" class="e">6.4%</text><text x="572" class="e">-21.0%</text><rect x="400" y="5.2" width="173" height="0.8" class="l"/></g>
<g transform="translate(0,487.8)"><rect x="400" y="-5" width="15" height="10" class="P"/><text x="407.5" class="k">115</text><text x="418" class="c">Малави</text><text x="500" class="e">3.06</text><text x="512" class="m">0</text><text x="550" class="e">2.8%</text><text x="572" class="e">-22.8%</text><rect x="400" y="5.2" width="173" height="0.8" class="l"/></g>
<g transform="translate(0,499.4)"><rect x="400" y="-5" width="15" height="10" class="P"/><text x="407.5" class="k">116</text><text x="418" class="c">Ангол</text><text x="500" class="e">3.05</text><text x="512" class="m">-2</text><text x="550" class="e">1.3%</text><text x="572" class="e">-22.9%</text><rect x="400" y="5.2" width="173" height="0.8" class="l"/></g>
<g transform="translate(0,511.0)"><rect x="400" y="-5" width="15" height="10" class="P"/><text x="407.5" class="k">117</text><text x="418" class="c">Камерун</text><text x="500" class="e">2.99</text><text x="512" class="m">0</text><text x="550" class="e">3.1%</text><text x="572" class="e">-24.6%</text><rect x="400" y="5.2" width="173" height="0.8" class="l"/></g>
<g transform="translate(0,522.7)"><rect x="400" y="-5" width="15" height="10" class="P"/><text x="407.5" class="k">118</text><text x="418" class="c">Сьерра Леон</text><text x="500" class="e">2.89</text><text x="512" class="m">0</text><text x="550" class="e">2.7%</text><text x="572" class="e">-27.1%</text><rect x="400" y="5.2" width="173" height="0.8" class="l"/></g>
<g transform="translate(0,534.3)"><rect x="400" y="-5" width="15" height="10" class="P"/><text x="407.5" class="k">119</text><text x="418" class="c">Мали</text><text x="500" class="e">2.78</text><text x="512" class="m">0</text><text x="550" class="e">-0.4%</text><text x="572" class="e">-30.0%</text><rect x="400" y="5.2" width="173" height="0.8" class="l"/></g>
</g>

<!-- legend -->
<circle cx="41" cy="571" r="6" class="Y"/><text x="51" y="571" class="lg">Америк тив</text>
<circle cx="112" cy="571" r="6" class="O"/><text x="122" y="571" class="lg">Ази-Номхон далайн</text>
<circle cx="219" cy="571" r="6" class="B"/><text x="229" y="571" class="lg">Европ ба Евразии</text>
<circle cx="302" cy="571" r="6" class="G"/><text x="311" y="571" class="lg">Ойрхи Дорнод ба Хойд Африк</text>
<circle cx="431" cy="571" r="6" class="P"/><text x="438" y="571" class="lg">Сахарын цөлөөс Өмнөх Африк</text>
<text x="36" y="593" font-size="6" fill="#555">Эх сурвалж: Дэлхийн эдийн засгийн форум</text>
<rect x="0" y="602" width="600" height="6" fill="#f7f7f5"/>
</svg>
</body></html>
